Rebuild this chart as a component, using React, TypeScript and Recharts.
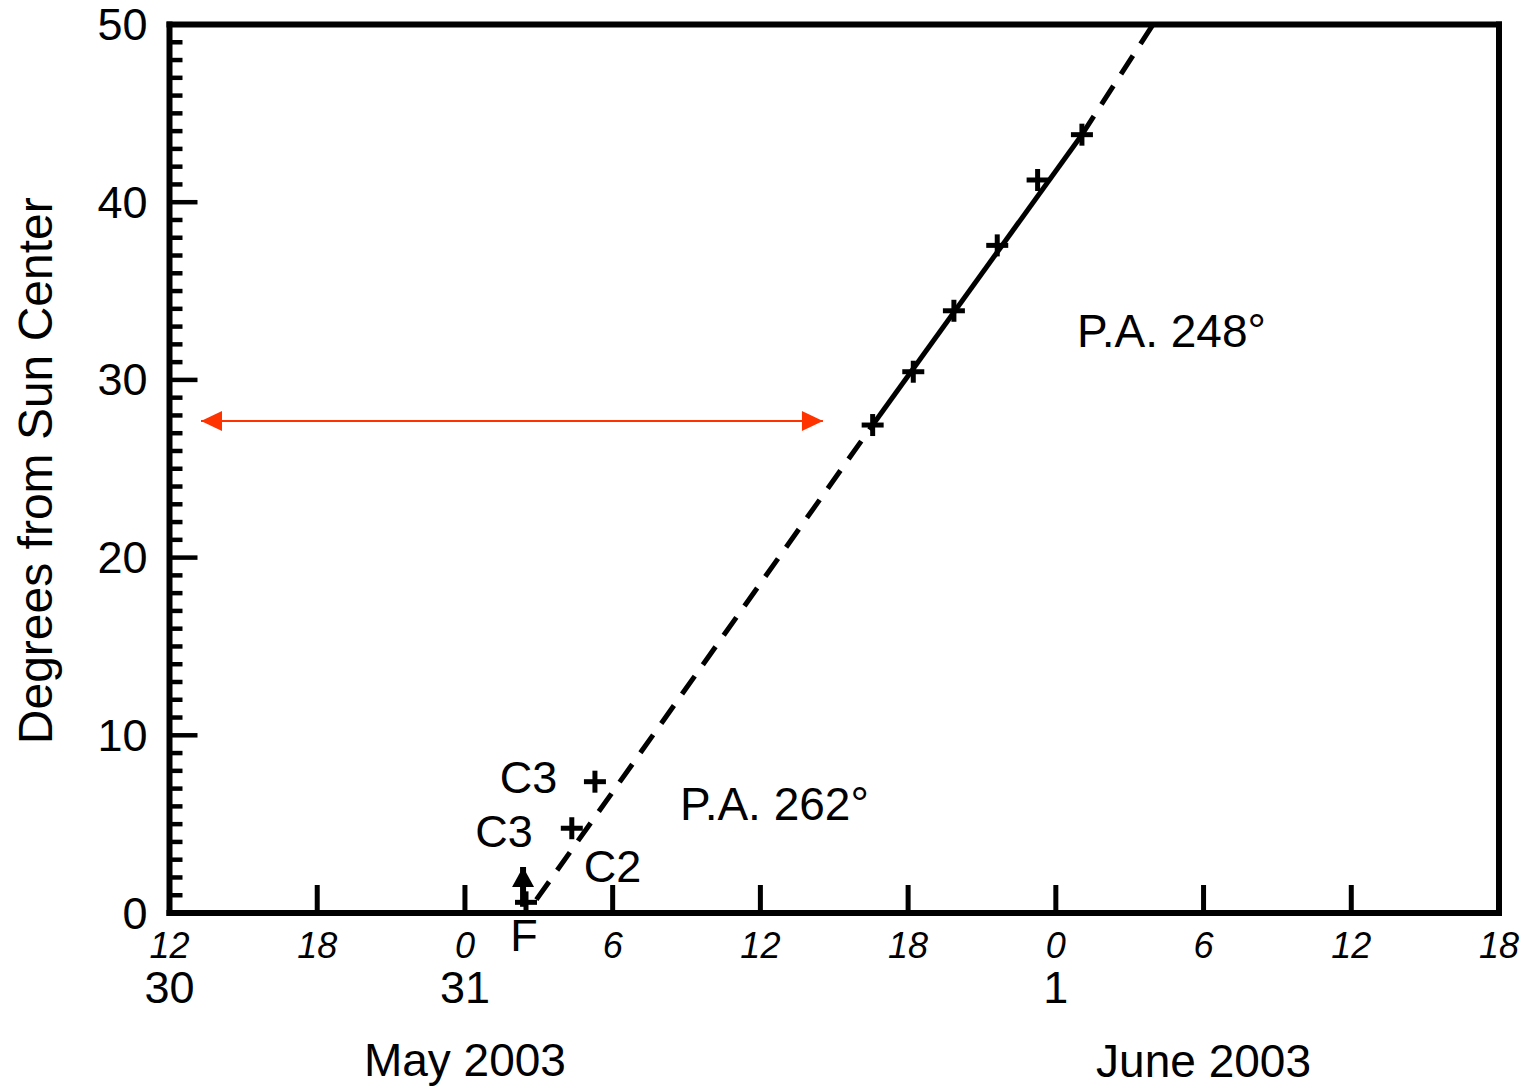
import React from 'react';
import { ComposedChart, Line, Scatter, XAxis, YAxis, ReferenceDot } from 'recharts';

// ---- axis ticks (hours counted from 30 May 2003 00 UT) ----
const hourTicks = [12, 18, 24, 30, 36, 42, 48, 54, 60, 66];
const hourLabels = ['12', '18', '0', '6', '12', '18', '0', '6', '12', '18'];
const dayTicks = [12, 24, 48];
const dayLabels = ['30', '31', '1'];
const monthTicks = [24, 54];
const monthLabels = ['May 2003', 'June 2003'];
const yMajorTicks = [0, 10, 20, 30, 40, 50];
const yLabels = ['0', '10', '20', '30', '40', '50'];
const yAllTicks = [0, 1, 2, 3, 4, 5, 6, 7, 8, 9, 10, 11, 12, 13, 14, 15, 16, 17, 18, 19, 20, 21, 22, 23, 24, 25, 26, 27, 28, 29, 30, 31, 32, 33, 34, 35, 36, 37, 38, 39, 40, 41, 42, 43, 44, 45, 46, 47, 48, 49, 50];

// ---- measured positions (crosses) ----
const crossHours = [26.48, 28.34, 29.28, 40.56, 42.21, 43.86, 45.62, 47.26, 49.06];
const crossDegrees = [0.6, 4.77, 7.39, 27.46, 30.46, 33.89, 37.57, 41.25, 43.8];

// ---- fitted track ----
const lowerDashHours = [26.9, 40.56];
const lowerDashDegrees = [0.75, 27.46];
const solidHours = [40.56, 49.06];
const solidDegrees = [27.46, 43.8];
const upperDashHours = [49.06, 51.95];
const upperDashDegrees = [43.8, 50];

// ---- arrows ----
const redArrowHours = [13.28, 38.54];
const redArrowDegrees = [27.69, 27.69];
const flareArrowHours = [26.36, 26.36];
const flareArrowDegrees = [0.35, 2.59];

// ---- annotations ----
const annoTexts = ['C3', 'C3', 'C2', 'F', 'P.A. 262°', 'P.A. 248°'];
const annoHours = [26.58, 25.59, 29.99, 26.4, 32.73, 48.86];
const annoDegrees = [7.63, 4.61, 2.64, -1.29, 6.13, 32.75];
const annoAnchors = ['middle', 'middle', 'middle', 'middle', 'start', 'start'];

const zip = (xs: number[], ys: number[]) => xs.map((x, i) => ({ x, y: ys[i] }));

const crossData = zip(crossHours, crossDegrees);
const lowerDash = zip(lowerDashHours, lowerDashDegrees);
const solidFit = zip(solidHours, solidDegrees);
const upperDash = zip(upperDashHours, upperDashDegrees);
const redArrow = zip(redArrowHours, redArrowDegrees);
const flareArrow = zip(flareArrowHours, flareArrowDegrees);

const FONT = '"Liberation Sans", Arial, Helvetica, sans-serif';
const MAJOR = 28;
const MINOR = 13;

const BottomTick = (props: any) => {
  const { x, y, payload } = props;
  const v = payload.value;
  const hi = hourTicks.indexOf(v);
  const di = dayTicks.indexOf(v);
  const mi = monthTicks.indexOf(v);
  return (
    <g>
      <line x1={x} y1={y} x2={x} y2={y - MAJOR} stroke="#000" strokeWidth={5} />
      <text x={x} y={y + 45} textAnchor="middle" fontStyle="italic" fontSize={36} fontFamily={FONT} fill="#000">
        {hourLabels[hi]}
      </text>
      {di >= 0 && (
        <text x={x} y={y + 90} textAnchor="middle" fontSize={45} fontFamily={FONT} fill="#000">
          {dayLabels[di]}
        </text>
      )}
      {mi >= 0 && (
        <text x={x} y={y + (mi === 0 ? 163 : 164)} textAnchor="middle" fontSize={46} fontFamily={FONT} fill="#000">
          {monthLabels[mi]}
        </text>
      )}
    </g>
  );
};

const TopTick = (props: any) => {
  const { x, y } = props;
  return <line x1={x} y1={y} x2={x} y2={y + MAJOR} stroke="#000" strokeWidth={5} />;
};

const LeftTick = (props: any) => {
  const { x, y, payload } = props;
  const v = payload.value;
  const mi = yMajorTicks.indexOf(v);
  const len = mi >= 0 ? MAJOR : MINOR;
  return (
    <g>
      <line x1={x} y1={y} x2={x + len} y2={y} stroke="#000" strokeWidth={4.5} />
      {mi >= 0 && (
        <text x={x - 22} y={y} textAnchor="end" dominantBaseline="central" fontSize={45} fontFamily={FONT} fill="#000">
          {yLabels[mi]}
        </text>
      )}
    </g>
  );
};

const RightTick = (props: any) => {
  const { x, y, payload } = props;
  const v = payload.value;
  const len = yMajorTicks.indexOf(v) >= 0 ? MAJOR : MINOR;
  return <line x1={x} y1={y} x2={x - len} y2={y} stroke="#000" strokeWidth={4.5} />;
};

const YTitle = (props: any) => {
  const vb = props.viewBox || { x: 0, y: 0, width: 0, height: 0 };
  const cx = vb.x + 25;
  const cy = vb.y + vb.height / 2 + 2;
  return (
    <text
      x={cx}
      y={cy}
      transform={`rotate(-90, ${cx}, ${cy})`}
      textAnchor="middle"
      dominantBaseline="central"
      fontSize={48}
      fontFamily={FONT}
      fill="#000"
    >
      Degrees from Sun Center
    </text>
  );
};

const CrossShape = (props: any) => {
  const { cx, cy } = props;
  const a = 11;
  return (
    <g>
      <line x1={cx - a} y1={cy} x2={cx + a} y2={cy} stroke="#000" strokeWidth={5} />
      <line x1={cx} y1={cy - a} x2={cx} y2={cy + a} stroke="#000" strokeWidth={5} />
    </g>
  );
};

const RedHead = (props: any) => {
  const { cx, cy, index } = props;
  const d = index === 0 ? 1 : -1;
  return (
    <polygon
      key={`rh-${index}`}
      points={`${cx},${cy} ${cx + d * 21},${cy - 10} ${cx + d * 21},${cy + 10}`}
      fill="#FF3300"
      stroke="none"
    />
  );
};

const FlareHead = (props: any) => {
  const { cx, cy, index } = props;
  if (index !== 1) return <g key={`fh-${index}`} />;
  return (
    <polygon
      key={`fh-${index}`}
      points={`${cx},${cy} ${cx - 11},${cy + 20} ${cx + 11},${cy + 20}`}
      fill="#000"
      stroke="none"
    />
  );
};

export default function App() {
  return (
    <div style={{ position: 'absolute', left: 0, top: 0, background: '#fff' }}>
      <ComposedChart
        width={1526}
        height={1088}
        margin={{ top: 23.5, right: 26, left: 10, bottom: 75 }}
      >
        <XAxis
          dataKey="x"
          type="number"
          domain={[12, 66]}
          ticks={hourTicks}
          interval={0}
          height={100}
          tickSize={0}
          tickMargin={0}
          tickLine={false}
          axisLine={{ stroke: '#000', strokeWidth: 6, strokeLinecap: 'square' }}
          tick={<BottomTick />}
        />
        <XAxis
          xAxisId="top"
          orientation="top"
          dataKey="x"
          type="number"
          domain={[12, 66]}
          ticks={hourTicks}
          interval={0}
          height={1}
          tickSize={0}
          tickMargin={0}
          tickLine={false}
          axisLine={{ stroke: '#000', strokeWidth: 6, strokeLinecap: 'square' }}
          tick={<TopTick />}
        />
        <YAxis
          type="number"
          domain={[0, 50]}
          ticks={yAllTicks}
          interval={0}
          width={159.5}
          tickSize={0}
          tickMargin={0}
          tickLine={false}
          axisLine={{ stroke: '#000', strokeWidth: 6, strokeLinecap: 'square' }}
          tick={<LeftTick />}
          label={<YTitle />}
        />
        <YAxis
          yAxisId="right"
          orientation="right"
          type="number"
          domain={[0, 50]}
          ticks={yAllTicks}
          interval={0}
          width={1}
          tickSize={0}
          tickMargin={0}
          tickLine={false}
          axisLine={{ stroke: '#000', strokeWidth: 6, strokeLinecap: 'square' }}
          tick={<RightTick />}
        />

        <Line
          data={lowerDash}
          dataKey="y"
          stroke="#000"
          strokeWidth={5}
          strokeDasharray="22 14"
          dot={false}
          activeDot={false}
          isAnimationActive={false}
        />
        <Line
          data={solidFit}
          dataKey="y"
          stroke="#000"
          strokeWidth={5}
          dot={false}
          activeDot={false}
          isAnimationActive={false}
        />
        <Line
          data={upperDash}
          dataKey="y"
          stroke="#000"
          strokeWidth={5}
          strokeDasharray="22 14"
          dot={false}
          activeDot={false}
          isAnimationActive={false}
        />
        <Line
          data={redArrow}
          dataKey="y"
          stroke="#FF3300"
          strokeWidth={2}
          dot={RedHead}
          activeDot={false}
          isAnimationActive={false}
        />
        <Line
          data={flareArrow}
          dataKey="y"
          stroke="#000"
          strokeWidth={6}
          dot={FlareHead}
          activeDot={false}
          isAnimationActive={false}
        />
        <Scatter data={crossData} dataKey="y" shape={CrossShape} isAnimationActive={false} />

        {annoTexts.map((t, i) => (
          <ReferenceDot
            key={`anno-${i}`}
            x={annoHours[i]}
            y={annoDegrees[i]}
            r={0}
            ifOverflow="visible"
            shape={(p: any) => (
              <text
                x={p.cx}
                y={p.cy}
                textAnchor={annoAnchors[i] as any}
                dominantBaseline="central"
                fontSize={i >= 4 ? 46 : 45}
                fontFamily={FONT}
                fill="#000"
              >
                {t}
              </text>
            )}
          />
        ))}
      </ComposedChart>
    </div>
  );
}
